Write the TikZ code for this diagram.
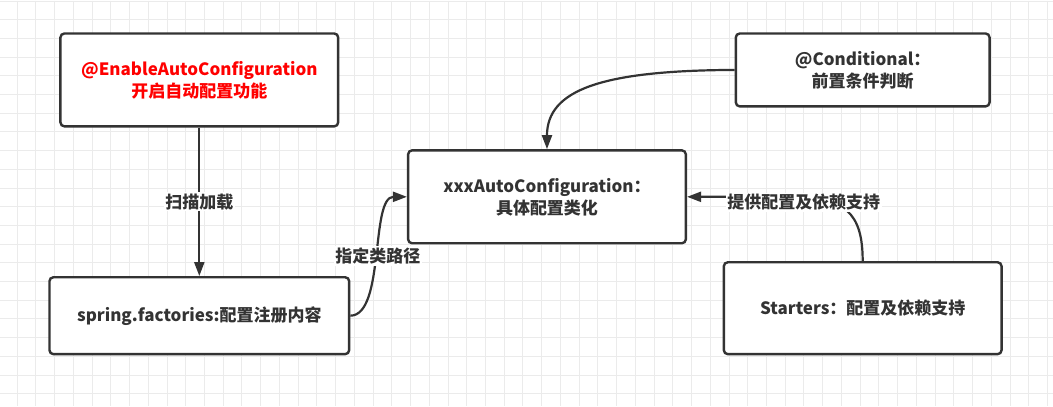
\documentclass[tikz,border=0pt]{standalone}
\usepackage{fontspec}
\setmainfont{Noto Sans CJK SC}
\usetikzlibrary{arrows.meta}
\definecolor{ink}{HTML}{333333}
\definecolor{gridgray}{HTML}{EBEBEB}

\tikzset{
    box/.style={draw=ink, line width=2.4pt, rounded corners=4pt, fill=white, align=center,
        text=ink, font=\bfseries\fontsize{17}{22}\selectfont},
    link/.style={draw=ink, line width=2.2pt, -{Triangle[length=14pt,width=10pt]}},
    tag/.style={fill=white, text=ink, inner sep=1.5pt, font=\bfseries\fontsize{17}{22}\selectfont}
}

\begin{document}
\begin{tikzpicture}[x=1pt,y=-1pt]
    %paper and grid
        \fill[white] (0,0) rectangle (1053,406);
        \foreach \i in {0,...,55}
            \draw[gridgray, line width=1pt] ({16.7+18.75*\i},0) -- ({16.7+18.75*\i},406);
        \foreach \j in {0,...,21}
            \draw[gridgray, line width=1pt] (0,{0.5+18.72*\j}) -- (1053,{0.5+18.72*\j});
        \useasboundingbox (0,0) rectangle (1053,406);

    %boxes
        \node[box, minimum width=278pt, minimum height=93pt, text=red] (enable) at (199,79.5)
            {@EnableAutoConfiguration\\开启自动配置功能};
        \node[box, minimum width=300pt, minimum height=77pt] (spring) at (199,315.5)
            {spring.factories:配置注册内容};
        \node[box, minimum width=278pt, minimum height=93pt] (auto) at (547,196.5)
            {xxxAutoConfiguration：\\具体配置类化};
        \node[box, minimum width=254pt, minimum height=73pt] (cond) at (863,69.5)
            {@Conditional：\\前置条件判断};
        \node[box, minimum width=278pt, minimum height=92pt] (starters) at (863,308)
            {Starters：配置及依赖支持};

    %connectors
        \draw[link] (enable) -- node[tag] (scan) {扫描加载} (spring);
        \draw[link] (spring.east) .. controls (385,315) and (370,196.5) .. node[tag, pos=0.5] (path) {指定类路径} (auto.west);
        \draw[link] (cond.west) .. controls (600,70) and (547,90) .. (auto.north);
        \draw[link] (starters.north) .. controls (863,212) and (845,196.5) .. (790,196.5) -- (auto.east);
        \node[tag] (supply) at (804,202) {提供配置及依赖支持};

\end{tikzpicture}
\end{document}
